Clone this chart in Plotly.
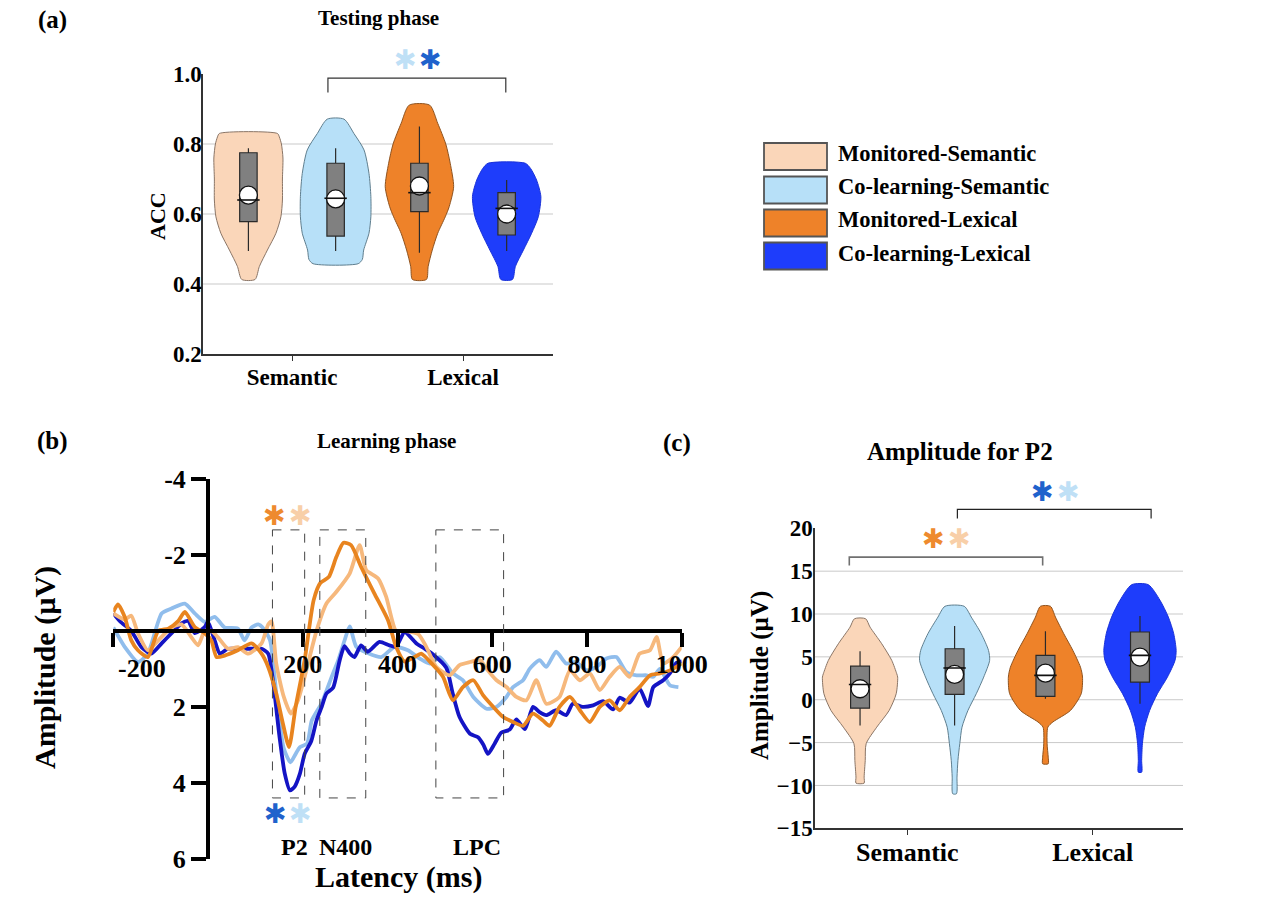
import plotly.graph_objects as go

W, H = 1264, 922
SERIF = "Liberation Serif"
STAR = "DejaVu Sans"

# ---------------- data ----------------
categories = ["Semantic", "Lexical"]
groups = ["Monitored-Semantic", "Co-learning-Semantic", "Monitored-Lexical", "Co-learning-Lexical"]
fill_colors = ["#FAD6B9", "#B7E0F8", "#EE8229", "#1E3DFB"]
edge_colors = ["#8a7566", "#5f7e8e", "#8f531f", "#1a32d8"]
erp_colors = ["#F6B87C", "#90BDEC", "#E8841F", "#1414C4"]
star_colors = {"ms": "#F8CFA8", "cs": "#BFE0F6", "ml": "#EE8A2E", "cl": "#1F62CC"}

# (a) Testing phase ACC: violin profiles (value levels, half widths in category units)
acc_lv_ms = [0.413, 0.45, 0.497, 0.545, 0.592, 0.64, 0.70, 0.76, 0.80, 0.82, 0.83]
acc_hw_ms = [0.039, 0.064, 0.111, 0.161, 0.190, 0.199, 0.199, 0.202, 0.193, 0.181, 0.170]
acc_lv_cs = [0.458, 0.47, 0.497, 0.545, 0.592, 0.65, 0.716, 0.783, 0.83, 0.871]
acc_hw_cs = [0.132, 0.156, 0.164, 0.195, 0.206, 0.206, 0.195, 0.166, 0.107, 0.049]
acc_lv_ml = [0.413, 0.45, 0.497, 0.545, 0.592, 0.621, 0.678, 0.745, 0.80, 0.859, 0.911]
acc_hw_ml = [0.041, 0.051, 0.075, 0.107, 0.151, 0.174, 0.200, 0.180, 0.154, 0.107, 0.060]
acc_lv_cl = [0.413, 0.45, 0.497, 0.545, 0.592, 0.65, 0.697, 0.73, 0.745]
acc_hw_cl = [0.034, 0.051, 0.098, 0.146, 0.185, 0.200, 0.175, 0.140, 0.109]
acc_q1 = [0.578, 0.537, 0.607, 0.540]
acc_median = [0.640, 0.645, 0.661, 0.616]
acc_q3 = [0.775, 0.745, 0.745, 0.661]
acc_low = [0.494, 0.494, 0.489, 0.494]
acc_high = [0.788, 0.788, 0.850, 0.697]
acc_mean = [0.654, 0.643, 0.680, 0.600]
acc_ticks = [0.2, 0.4, 0.6, 0.8, 1.0]

# (c) P2 amplitude
p2_lv_ms = [-9.73, -9.03, -7.08, -5.13, -3.2, -1.25, 0.7, 2.64, 3.03, 4.59, 6.53, 8.47, 9.45]
p2_hw_ms = [0.022, 0.022, 0.028, 0.033, 0.090, 0.157, 0.195, 0.203, 0.198, 0.171, 0.117, 0.054, 0.030]
p2_lv_cs = [-10.97, -9.03, -7.08, -5.13, -3.2, -1.25, 0.7, 2.64, 4.59, 5.75, 7.7, 9.64, 10.9]
p2_hw_cs = [0.010, 0.013, 0.018, 0.028, 0.040, 0.072, 0.117, 0.157, 0.189, 0.183, 0.144, 0.090, 0.052]
p2_lv_ml = [-7.47, -6.7, -5.13, -3.2, -2.6, -1.25, 0.7, 2.64, 3.8, 5.75, 7.7, 9.64, 10.9]
p2_hw_ml = [0.015, 0.015, 0.009, 0.013, 0.040, 0.135, 0.193, 0.200, 0.189, 0.148, 0.099, 0.054, 0.027]
p2_lv_cl = [-8.45, -7.08, -5.13, -3.2, -1.25, 0.7, 2.64, 4.59, 5.75, 7.7, 9.64, 11.6, 13.42]
p2_hw_cl = [0.009, 0.009, 0.013, 0.025, 0.052, 0.094, 0.148, 0.189, 0.195, 0.182, 0.153, 0.108, 0.045]
p2_q1 = [-0.98, 0.62, 0.39, 2.06]
p2_median = [1.78, 3.70, 2.84, 5.17]
p2_q3 = [3.92, 5.95, 5.17, 7.90]
p2_low = [-3.0, -3.0, 0.1, -0.47]
p2_high = [5.67, 8.60, 8.00, 9.76]
p2_mean = [1.28, 2.95, 3.10, 4.98]
p2_ticks = [-15, -10, -5, 0, 5, 10, 15, 20]

# (b) Learning phase ERP waveforms (latency ms, amplitude uV)
erp_ms = [(-200,-0.46),(-176,-0.3),(-162,-0.4),(-148,0.06),(-127,0.51),(-105,0.25),(-77,-0.09),(-56,-0.17),
          (-35,0.17),(-21,0.38),(-7,0.0),(7,0.0),(21,0.17),(42,0.47),(63,0.43),(85,0.6),(113,0.33),(127,-0.17),
          (134,-0.25),(144,0.86),(160,1.74),(175,2.18),(190,1.83),(204,1.21),(229,0.0),(250,-0.72),(271,-1.03),
          (299,-1.51),(320,-2.26),(334,-1.6),(359,-1.38),(376,-0.9),(397,0.0),(415,0.0),(444,0.09),(460,0.4),
          (482,0.95),(510,1.17),(531,0.9),(553,0.82),(574,0.77),(588,1.0),(609,1.3),(630,1.48),(651,1.74),
          (672,1.83),(693,1.3),(714,1.92),(742,1.74),(764,1.04),(785,1.3),(806,1.12),(827,1.56),(848,1.21),
          (869,0.95),(890,1.21),(911,0.6),(933,0.51),(947,0.16),(961,0.86),(982,0.69),(1000,0.42)]
erp_cs = [(-200,-0.09),(-176,0.42),(-148,0.82),(-127,0.6),(-98,-0.46),(-77,-0.59),(-49,-0.72),(-28,-0.46),
          (-7,-0.24),(14,-0.37),(35,-0.09),(63,-0.06),(77,0.25),(92,-0.09),(106,-0.17),(117,-0.06),(131,0.25),
          (146,1.9),(160,3.1),(174,3.46),(185,3.24),(194,3.06),(209,2.97),(219,2.36),(240,1.9),(261,1.21),
          (275,0.77),(288,0.26),(299,-0.12),(313,0.42),(338,0.59),(366,0.69),(394,0.42),(422,0.51),(447,0.73),
          (468,0.86),(489,0.69),(517,1.12),(538,1.3),(560,1.74),(588,2.05),(609,2.0),(630,1.74),(644,1.48),
          (665,1.3),(679,1.0),(700,0.77),(714,0.95),(735,0.55),(756,0.86),(777,0.82),(799,1.04),(820,0.95),
          (841,0.73),(862,0.69),(883,1.08),(905,1.17),(926,1.17),(940,1.21),(954,1.0),(975,1.43),(993,1.48)]
erp_ml = [(-200,-0.5),(-190,-0.7),(-176,-0.37),(-162,0.25),(-148,0.51),(-127,0.69),(-105,0.0),(-84,-0.06),
          (-63,-0.26),(-49,-0.5),(-28,-0.1),(-7,0.06),(7,0.25),(18,0.69),(35,0.65),(63,0.51),(92,0.33),(113,0.6),
          (127,0.95),(144,1.65),(158,2.44),(171,3.06),(185,2.0),(204,0.77),(223,-0.81),(237,-1.26),(255,-1.42),
          (271,-1.95),(286,-2.32),(302,-2.26),(323,-1.69),(351,-0.99),(380,-0.28),(397,0.42),(415,0.81),
          (436,0.69),(450,0.6),(475,0.9),(496,1.21),(517,1.83),(538,1.48),(560,1.3),(581,1.7),(602,2.0),
          (623,2.27),(644,2.4),(665,2.5),(686,2.18),(707,2.36),(721,2.5),(742,2.0),(764,1.74),(785,2.09),
          (806,2.4),(827,2.0),(848,1.83),(869,2.09),(890,1.74),(911,1.48),(933,1.17),(954,1.12),(975,1.04),(1000,0.86)]
erp_cl = [(-200,-0.46),(-185,-0.24),(-162,0.0),(-141,0.42),(-120,0.6),(-98,0.33),(-77,0.06),(-56,-0.2),
          (-42,-0.26),(-28,0.06),(-7,-0.1),(0,-0.24),(14,0.25),(25,0.6),(42,0.47),(63,0.47),(92,0.47),(113,0.47),
          (127,0.6),(137,1.3),(151,2.8),(162,3.76),(173,4.2),(183,4.1),(194,3.76),(204,3.24),(218,2.9),(229,2.36),
          (240,2.0),(250,1.65),(264,1.5),(278,0.77),(288,0.4),(299,0.59),(309,0.69),(323,0.38),(337,0.55),
          (362,0.29),(383,0.38),(397,0.42),(415,0.03),(440,0.33),(455,0.45),(475,0.62),(503,0.97),(517,1.67),
          (531,2.27),(553,2.71),(570,2.8),(581,2.99),(591,3.24),(605,2.97),(619,2.68),(637,2.6),(651,2.33),
          (669,2.59),(686,2.0),(700,2.14),(714,2.22),(735,2.09),(756,2.22),(770,1.92),(791,2.0),(813,1.96),
          (834,1.85),(855,2.07),(869,1.76),(890,1.89),(911,1.52),(929,1.98),(940,1.48),(961,1.3),(975,1.12),
          (989,0.84),(1000,0.8)]
erp_windows = [("P2", 136, 204), ("N400", 236, 333), ("LPC", 481, 624)]
erp_xticks = [-200, 0, 200, 400, 600, 800, 1000]
erp_yticks = [-4, -2, 0, 2, 4, 6]

# ---------------- helpers ----------------
def PX(x):
    return x / W

def PY(y):
    return 1 - y / H

a_dom_x, a_dom_y = [PX(203), PX(553)], [PY(354), PY(74)]
b_dom_x, b_dom_y = [PX(113.3), PX(681.7)], [PY(858.7), PY(479)]
c_dom_x, c_dom_y = [PX(815), PX(1183)], [PY(828.3), PY(528.3)]
a_rng_x, a_rng_y = [0.4795, 2.526], [0.2, 1.0]
c_rng_x, c_rng_y = [0.502, 2.487], [-15, 20]
b_rng_x, b_rng_y = [-200, 1000], [6, -4]
OFF = 0.255
positions = [1 - OFF, 1 + OFF, 2 - OFF, 2 + OFF]

def dx(dom, rng, v):
    return dom[0] + (v - rng[0]) / (rng[1] - rng[0]) * (dom[1] - dom[0])

fig = go.Figure()

def add_violins(levels, widths, xa, ya):
    for i in range(4):
        lv, hw = levels[i], widths[i]
        c = positions[i]
        xs = [c + w for w in hw] + [c - w for w in reversed(hw)] + [c + hw[0]]
        ys = list(lv) + list(reversed(lv)) + [lv[0]]
        fig.add_trace(go.Scatter(x=xs, y=ys, mode="lines", fill="toself", fillcolor=fill_colors[i],
                                 line=dict(color=edge_colors[i], width=1, shape="spline", smoothing=0.7),
                                 xaxis=xa, yaxis=ya, hoverinfo="skip", showlegend=False))

def add_boxes(q1, med, q3, lo, hi, mean, xa, ya):
    for i in range(4):
        fig.add_trace(go.Box(x=[positions[i]], q1=[q1[i]], median=[med[i]], q3=[q3[i]],
                             lowerfence=[lo[i]], upperfence=[hi[i]], width=0.102,
                             fillcolor="#808080", line=dict(color="#2a2a2a", width=1.2),
                             whiskerwidth=0, boxpoints=False, xaxis=xa, yaxis=ya,
                             hoverinfo="skip", showlegend=False))
    fig.add_trace(go.Scatter(x=positions, y=mean, mode="markers",
                             marker=dict(symbol="circle", size=18, color="white",
                                         line=dict(color="#111", width=1.3)),
                             xaxis=xa, yaxis=ya, hoverinfo="skip", showlegend=False))
    fig.add_trace(go.Scatter(x=positions, y=med, mode="markers",
                             marker=dict(symbol="line-ew", size=16,
                                         line=dict(color="#111", width=1.6)),
                             xaxis=xa, yaxis=ya, hoverinfo="skip", showlegend=False))

# (a)
add_violins([acc_lv_ms, acc_lv_cs, acc_lv_ml, acc_lv_cl], [acc_hw_ms, acc_hw_cs, acc_hw_ml, acc_hw_cl], "x", "y")
add_boxes(acc_q1, acc_median, acc_q3, acc_low, acc_high, acc_mean, "x4", "y4")
# (c)
add_violins([p2_lv_ms, p2_lv_cs, p2_lv_ml, p2_lv_cl], [p2_hw_ms, p2_hw_cs, p2_hw_ml, p2_hw_cl], "x3", "y3")
add_boxes(p2_q1, p2_median, p2_q3, p2_low, p2_high, p2_mean, "x5", "y5")

# (b) ERP lines
for series, col, w in [(erp_cs, erp_colors[1], 3.8), (erp_cl, erp_colors[3], 3.8),
                       (erp_ms, erp_colors[0], 3.8), (erp_ml, erp_colors[2], 3.8)]:
    fig.add_trace(go.Scatter(x=[p[0] for p in series], y=[p[1] for p in series], mode="lines",
                             line=dict(color=col, width=w, shape="spline", smoothing=0.6),
                             xaxis="x2", yaxis="y2", hoverinfo="skip", showlegend=False))

shapes = []
# gridlines (a) and (c)
for v in [0.4, 0.6, 0.8]:
    shapes.append(dict(type="line", xref="x domain", yref="y", x0=0, x1=1, y0=v, y1=v,
                       line=dict(color="#c9c9c9", width=1), layer="below"))
for v in [-10, -5, 0, 5, 10, 15]:
    shapes.append(dict(type="line", xref="x3 domain", yref="y3", x0=0, x1=1, y0=v, y1=v,
                       line=dict(color="#c9c9c9", width=1), layer="below"))
# ERP windows
for name, t0, t1 in erp_windows:
    shapes.append(dict(type="rect", xref="x2", yref="y2", x0=t0, x1=t1, y0=-2.66, y1=4.4,
                       line=dict(color="#444", width=1, dash="dash")))

def bracket(dom_x, rng_x, dom_y, rng_y, x0, x1, ytop, yend, color, width):
    X0, X1 = dx(dom_x, rng_x, x0), dx(dom_x, rng_x, x1)
    YT, YE = dx(dom_y, rng_y, ytop), dx(dom_y, rng_y, yend)
    return dict(type="path", xref="paper", yref="paper",
                path=f"M {X0},{YE} L {X0},{YT} L {X1},{YT} L {X1},{YE}",
                line=dict(color=color, width=width))

shapes.append(bracket(a_dom_x, a_rng_x, a_dom_y, a_rng_y, 1.21, 2.25, 0.988, 0.947, "#333", 1.2))
shapes.append(bracket(c_dom_x, c_rng_x, c_dom_y, c_rng_y, 0.687, 1.73, 16.64, 15.67, "#707070", 1.6))
shapes.append(bracket(c_dom_x, c_rng_x, c_dom_y, c_rng_y, 1.27, 2.315, 22.2, 21.15, "#222", 1.2))

# legend swatches
leg_y = [156.5, 190, 223, 256]
for i, yc in enumerate(leg_y):
    shapes.append(dict(type="rect", xref="paper", yref="paper", x0=PX(764), x1=PX(827),
                       y0=PY(yc + 13.5), y1=PY(yc - 13.5), fillcolor=fill_colors[i],
                       line=dict(color="#555", width=1.8)))

ann = []

def text(x, y, s, size, angle=0, color="black", family=SERIF, bold=True, xanchor="center"):
    ann.append(dict(x=PX(x), y=PY(y), xref="paper", yref="paper", text=s, showarrow=False,
                    textangle=angle, xanchor=xanchor, yanchor="middle",
                    font=dict(family=family, size=size, color=color, weight="bold" if bold else "normal")))

for i, yc in enumerate(leg_y):
    text(836, yc - 3, groups[i], 22.5, xanchor="left")

text(52, 20, "(a)", 25)
text(378, 18, "Testing phase", 21)
text(157, 216, "ACC", 22, angle=-90)
text(52, 441, "(b)", 25)
text(386, 441, "Learning phase", 21)
text(45, 668, "Amplitude (µV)", 30, angle=-90)
text(398, 877, "Latency (ms)", 30)
text(677, 443, "(c)", 25)
text(960, 451, "Amplitude for P2", 25)
text(760, 676, "Amplitude (µV)", 25, angle=-90)
text(142, 668, "-200", 26)
for name, t0, t1 in erp_windows:
    xc = {"P2": 294, "N400": 345, "LPC": 477}[name]
    text(xc, 847, name, 24)

# significance stars
for x, y, key in [(405, 60, "cs"), (430, 60, "cl"),
                  (274, 515, "ml"), (300, 515, "ms"), (275, 813, "cl"), (300, 813, "cs"),
                  (933, 538, "ml"), (959, 538, "ms"), (1042, 491, "cl"), (1068, 491, "cs")]:
    text(x, y, "✱", 27, color=star_colors[key], family=STAR)

tick_a = dict(family=SERIF, size=23, color="black", weight="bold")
tick_b = dict(family=SERIF, size=26, color="black", weight="bold")
tick_c = dict(family=SERIF, size=23, color="black", weight="bold")
tick_cx = dict(family=SERIF, size=26, color="black", weight="bold")

b_xpos = dx(b_dom_y, b_rng_y, 0)
b_ypos = dx(b_dom_x, b_rng_x, 0)

fig.update_layout(
    width=W, height=H, autosize=False, margin=dict(l=0, r=0, t=0, b=0, pad=0, autoexpand=False),
    paper_bgcolor="white", plot_bgcolor="rgba(0,0,0,0)", showlegend=False,
    shapes=shapes, annotations=ann,
    xaxis=dict(domain=a_dom_x, range=a_rng_x, anchor="y", tickvals=[1, 2], ticktext=categories,
               ticks="outside", ticklen=5, tickcolor="#333", showline=True, linecolor="#333", linewidth=1.5,
               showgrid=False, zeroline=False, tickfont=tick_a, ticklabelstandoff=-3, automargin=False),
    yaxis=dict(domain=a_dom_y, range=a_rng_y, anchor="x", tickvals=acc_ticks,
               ticktext=[f"{v:.1f}" for v in acc_ticks], ticks="", showline=True, linecolor="#333",
               linewidth=1.5, showgrid=False, zeroline=False, tickfont=tick_a, ticklabelstandoff=-5,
               automargin=False),
    xaxis4=dict(domain=a_dom_x, range=a_rng_x, overlaying="x", anchor="y4", visible=False),
    yaxis4=dict(domain=a_dom_y, range=a_rng_y, overlaying="y", anchor="x4", visible=False),
    xaxis2=dict(domain=b_dom_x, range=b_rng_x, anchor="free", position=b_xpos, tickvals=erp_xticks,
                ticktext=[("" if v in (0, -200) else str(v)) for v in erp_xticks], ticks="outside", ticklen=14,
                tickwidth=4, tickcolor="black", showline=True, linecolor="black", linewidth=4,
                showgrid=False, zeroline=False, tickfont=tick_b, ticklabelstandoff=-5, automargin=False),
    yaxis2=dict(domain=b_dom_y, range=b_rng_y, anchor="free", position=b_ypos, tickvals=erp_yticks,
                ticktext=[("" if v == 0 else str(v)) for v in erp_yticks], ticks="outside", ticklen=15,
                tickwidth=4, tickcolor="black", showline=True, linecolor="black", linewidth=4,
                showgrid=False, zeroline=False, tickfont=tick_b, automargin=False),
    xaxis3=dict(domain=c_dom_x, range=c_rng_x, anchor="y3", tickvals=[1, 2], ticktext=categories,
                ticks="outside", ticklen=5, tickcolor="#333", showline=True, linecolor="#333", linewidth=1.5,
                showgrid=False, zeroline=False, tickfont=tick_cx, ticklabelstandoff=-5, automargin=False),
    yaxis3=dict(domain=c_dom_y, range=c_rng_y, anchor="x3", tickvals=p2_ticks, ticks="",
                showline=True, linecolor="#333", linewidth=1.5, showgrid=False, zeroline=False,
                tickfont=tick_c, ticklabelstandoff=-4, automargin=False),
    xaxis5=dict(domain=c_dom_x, range=c_rng_x, overlaying="x3", anchor="y5", visible=False),
    yaxis5=dict(domain=c_dom_y, range=c_rng_y, overlaying="y3", anchor="x5", visible=False),
)

fig.write_html("out.html", config={"displayModeBar": False},
               post_script="document.body.style.margin='0';document.body.style.overflow='hidden';")
